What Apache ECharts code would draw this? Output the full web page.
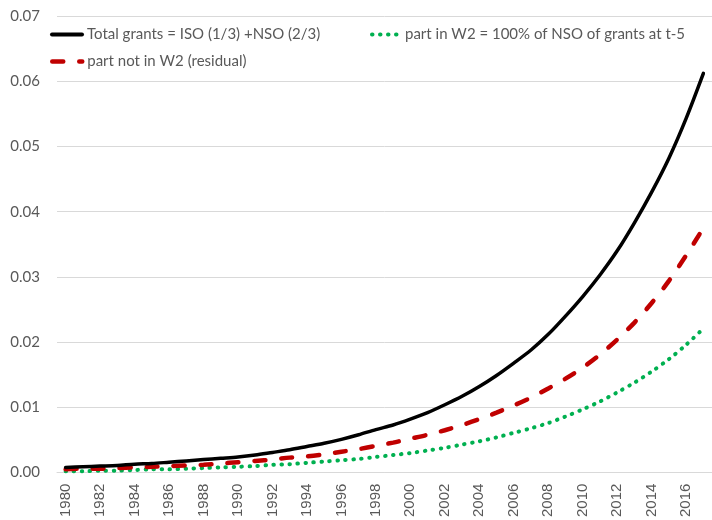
<!DOCTYPE html>
<html><head><meta charset="utf-8">
<script src="https://cdn.jsdelivr.net/npm/echarts@6/dist/echarts.min.js"></script>
<style>html,body{margin:0;padding:0;background:#fff}#c{width:712px;height:520px}</style>
</head><body><div id="c"></div>
<script>
var years = [];
for (var y = 1980; y <= 2017; y++) years.push(String(y));
var yTicks = [0, 0.01, 0.02, 0.03, 0.04, 0.05, 0.06, 0.07];
var nameTotal = 'Total grants = ISO (1/3) +NSO (2/3)';
var nameW2 = 'part in W2 = 100% of NSO of grants at t-5';
var nameResid = 'part not in W2 (residual)';
var total = [0.0008,0.0009,0.0010,0.0011,0.0013,0.0014,0.0016,0.0018,0.0020,0.0022,
  0.0024,0.0027,0.0031,0.0035,0.0040,0.0045,0.0051,0.0058,0.0066,0.0073,
  0.0082,0.0092,0.0104,0.0117,0.0132,0.0149,0.0168,0.0188,0.0212,0.0240,
  0.0270,0.0303,0.0340,0.0383,0.0430,0.0482,0.0543,0.0612];
var residual = [0.0005,0.0006,0.0006,0.0007,0.0008,0.0009,0.0010,0.0011,0.0012,0.0014,
  0.0016,0.0018,0.0020,0.0023,0.0025,0.0028,0.0032,0.0036,0.0041,0.0046,
  0.0052,0.0058,0.0065,0.0073,0.0082,0.0092,0.0103,0.0115,0.0129,0.0144,
  0.0161,0.0181,0.0204,0.0230,0.0260,0.0294,0.0333,0.0375];
var w2 = [0.0002,0.0002,0.0003,0.0003,0.0004,0.0005,0.0005,0.0006,0.0007,0.0008,
  0.0009,0.0010,0.0012,0.0013,0.0015,0.0017,0.0019,0.0021,0.0024,0.0027,
  0.0030,0.0034,0.0038,0.0043,0.0048,0.0054,0.0061,0.0068,0.0076,0.0086,
  0.0097,0.0109,0.0123,0.0138,0.0155,0.0174,0.0196,0.0221];

var chart = echarts.init(document.getElementById('c'), null, {renderer: 'canvas'});
var legendText = {color: '#595959', fontSize: 15, fontFamily: 'Lato'};
var legendItem = {opacity: 0, borderWidth: 0};
chart.setOption({
  animation: false,
  backgroundColor: '#fff',
  grid: {left: 57, top: 16, width: 663, height: 459},
  legend: [
    {data: [nameTotal], left: 50, top: 27, itemWidth: 30, itemHeight: 14, textStyle: legendText, itemStyle: legendItem,
      lineStyle: {width: 4}, padding: 0},
    {data: [nameW2], left: 370, top: 27, itemWidth: 28, itemHeight: 14, textStyle: legendText, itemStyle: legendItem,
      lineStyle: {width: 4}, padding: 0},
    {data: [nameResid], left: 50, top: 54, itemWidth: 30, itemHeight: 14, textStyle: legendText, itemStyle: legendItem,
      lineStyle: {width: 4.5}, padding: 0}
  ],
  xAxis: {
    type: 'category', data: years, boundaryGap: true,
    axisLine: {lineStyle: {color: '#d9d9d9', width: 1}},
    axisTick: {show: false},
    axisLabel: {rotate: 90, interval: 1, margin: 11, color: '#595959', fontSize: 15, fontFamily: 'Liberation Sans'}
  },
  yAxis: {
    type: 'value', min: 0, max: 0.07, interval: 0.01,
    axisLine: {show: false}, axisTick: {show: false},
    splitLine: {lineStyle: {color: '#d9d9d9', width: 1}},
    axisLabel: {margin: 17, color: '#595959', fontSize: 15, fontFamily: 'Lato',
      formatter: function (v) { return v.toFixed(2); }}
  },
  series: [
    {name: nameTotal, type: 'line', data: total, symbol: 'none', smooth: 0.3,
      itemStyle: {color: '#000'},
      lineStyle: {color: '#000', width: 3.5, cap: 'round'}, z: 3},
    {name: nameW2, type: 'line', data: w2, symbol: 'none', smooth: 0.3,
      itemStyle: {color: '#00B050'},
      lineStyle: {color: '#00B050', width: 4, type: [0.5, 7.5], cap: 'round'}, z: 2},
    {name: nameResid, type: 'line', data: residual, symbol: 'none', smooth: 0.3,
      itemStyle: {color: '#C00000'},
      lineStyle: {color: '#C00000', width: 4.5, type: [11, 16], cap: 'round'}, z: 2}
  ]
});
</script></body></html>
